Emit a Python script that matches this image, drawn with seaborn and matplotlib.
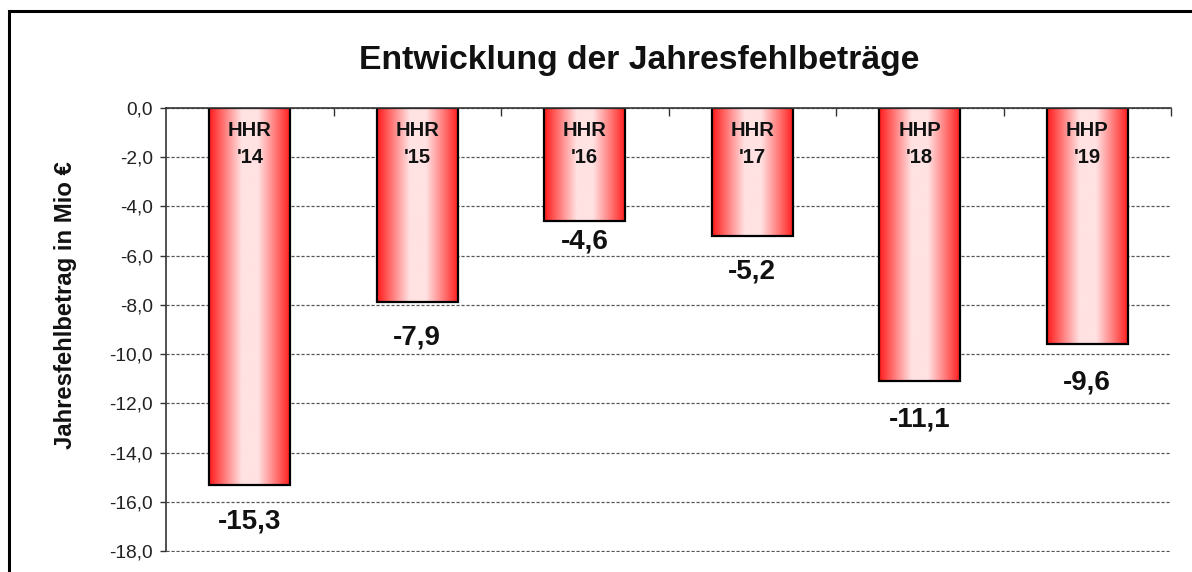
import numpy as np
import pandas as pd
import matplotlib
matplotlib.use("Agg")
import matplotlib.pyplot as plt
from matplotlib.colors import LinearSegmentedColormap
from matplotlib.patches import Rectangle
import seaborn as sns

# ---- data ----
kinds = ["HHR", "HHR", "HHR", "HHR", "HHP", "HHP"]
years = ["'14", "'15", "'16", "'17", "'18", "'19"]
values = [-15.3, -7.9, -4.6, -5.2, -11.1, -9.6]
yticks = [0, -2, -4, -6, -8, -10, -12, -14, -16, -18]

title = "Entwicklung der Jahresfehlbeträge"
ylabel = "Jahresfehlbetrag in Mio €"

sns.set_theme(style="white")
plt.rcParams["font.family"] = ["Liberation Sans", "DejaVu Sans"]

W, H = 1192, 572
fig = plt.figure(figsize=(W / 100, H / 100), dpi=100)
ax = fig.add_axes([166 / W, 1 - 552 / H, (1171 - 166) / W, (552 - 108) / H])

df = pd.DataFrame({"cat": [k + " " + y for k, y in zip(kinds, years)], "val": values})
sns.barplot(data=df, x="cat", y="val", ax=ax, width=0.484, color="red",
            edgecolor="black", linewidth=1.6, errorbar=None, zorder=3)

# gradient fill
cmap = LinearSegmentedColormap.from_list(
    "g", ["#ff1a1a", "#ff8080", "#ffe2e2", "#ffe2e2", "#ff8080", "#ff1a1a"])
grad = np.linspace(0, 1, 256).reshape(1, -1)
for p in ax.patches:
    x0, y0 = p.get_x(), p.get_y()
    w, h = p.get_width(), p.get_height()
    p.set_facecolor("none")
    im = ax.imshow(grad, cmap=cmap, aspect="auto",
                   extent=[x0, x0 + w, min(y0, y0 + h), max(y0, y0 + h)],
                   zorder=2.9, interpolation="bicubic")
    im.set_clip_path(p)
ax.set_xlim(-0.5, len(values) - 0.5)
ax.set_ylim(-18.04, 0)

# axes styling
ax.set_xlabel("")
ax.set_ylabel("")
ax.xaxis.tick_top()
ax.set_xticks(np.arange(0.5, len(values), 1.0))
ax.set_xticklabels([])
ax.tick_params(axis="x", direction="in", length=6, width=1.0, color="#333333", top=True, bottom=False)
ax.set_yticks(yticks)
ax.set_yticklabels([f"{t:.1f}".replace(".", ",") for t in yticks], fontsize=13.8, color="#222222")
ax.tick_params(axis="y", direction="out", length=4.5, width=1.0, color="#333333", left=True, pad=5)
for s in ["right", "bottom"]:
    ax.spines[s].set_visible(False)
for s in ["left", "top"]:
    ax.spines[s].set_color("#333333")
    ax.spines[s].set_linewidth(1.2)
    ax.spines[s].set_zorder(4)
ax.spines["left"].set_bounds(-18, 0)

ax.yaxis.grid(True, linestyle=(0, (2.5, 1.5)), color="#555555", linewidth=0.9, zorder=0)
ax.xaxis.grid(False)
ax.set_axisbelow(True)

# labels inside bars and value labels
label_pad = [1.5, 1.42, 0.82, 1.43, 1.55, 1.55]
for i, (k, yr, v) in enumerate(zip(kinds, years, values)):
    ax.text(i, -0.93, k, ha="center", va="center", fontsize=14.5, fontweight="bold", color="#111111", zorder=5)
    ax.text(i, -2.03, yr, ha="center", va="center", fontsize=14.5, fontweight="bold", color="#111111", zorder=5)
    ax.text(i, v - label_pad[i], f"{v:.1f}".replace(".", ","), ha="center", va="center",
            fontsize=20, fontweight="bold", color="#111111", zorder=5)

fig.text(66 / W, 1 - 305 / H, ylabel, rotation=90, ha="center", va="center",
         fontsize=17.2, fontweight="bold", color="#111111")
fig.text(639 / W, 1 - 60 / H, title, ha="center", va="center",
         fontsize=24.3, fontweight="bold", color="#111111")

# outer frame
fig.patches.append(Rectangle((9 / W, -0.2), 1.2, 1.2 - 11 / H, transform=fig.transFigure,
                             fill=False, edgecolor="black", linewidth=2.2, figure=fig))

fig.savefig("out.png", dpi=100)
